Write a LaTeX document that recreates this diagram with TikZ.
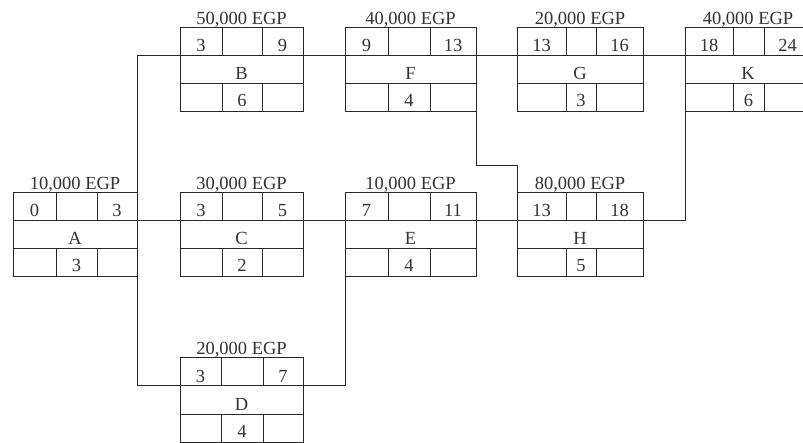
\documentclass[tikz,border=0pt]{standalone}
\usepackage{fontspec}
\setmainfont{Liberation Serif}
\usepackage{xcolor}
\usepackage{tikz}
\usetikzlibrary{positioning}

\tikzset{
  actbox/.style={draw=black!85, line width=1pt, minimum height=84, inner sep=0, outer sep=0, anchor=north west},
  cellline/.style={draw=black!85, line width=1pt},
  link/.style={draw=black!85, line width=1pt},
  numtext/.style={inner sep=0, anchor=base, text=black!80, font=\fontsize{18.5}{20}\selectfont}
}

\begin{document}
\begin{tikzpicture}[x=1pt, y=-1pt]
\useasboundingbox (0,0) rectangle (803,443);
\clip (0,0) rectangle (803,443);
% name / left / right / top / first divider / second divider / cost / ES / EF / duration
\foreach \nm/\xl/\xr/\ty/\xa/\xb/\cost/\es/\ef/\dur in {
  A/13/137/193/56/97/{10,000}/0/3/3,
  B/180/303/28/222/262/{50,000}/3/9/6,
  C/180/303/193/222/262/{30,000}/3/5/2,
  D/180/303/358/221/263/{20,000}/3/7/4,
  E/345/476/193/388/430/{10,000}/7/11/4,
  F/345/476/28/388/430/{40,000}/9/13/4,
  G/517/643/28/566/596/{20,000}/13/16/3,
  H/517/643/193/566/596/{80,000}/13/18/5,
  K/685/811/28/733/764/{40,000}/18/24/6} {
  \node[actbox, minimum width=\xr-\xl] (\nm) at (\xl,\ty) {};
  \draw[cellline] (\xl,\ty+28) -- (\xr,\ty+28);
  \draw[cellline] (\xl,\ty+56) -- (\xr,\ty+56);
  \draw[cellline] (\xa,\ty) -- (\xa,\ty+28);
  \draw[cellline] (\xb,\ty) -- (\xb,\ty+28);
  \draw[cellline] (\xa,\ty+56) -- (\xa,\ty+84);
  \draw[cellline] (\xb,\ty+56) -- (\xb,\ty+84);
  \coordinate (\nm-in) at (\xl,\ty+28);
  \coordinate (\nm-out) at (\xr,\ty+28);
  \node[numtext] (\nm-cost) at ({(\xl+\xr)/2},\ty-3) {\cost\ EGP};
  \node[numtext] (\nm-es) at ({(\xl+\xa)/2},\ty+24) {\es};
  \node[numtext] (\nm-ef) at ({(\xb+\xr)/2},\ty+24) {\ef};
  \node[numtext] (\nm-name) at ({(\xl+\xr)/2},\ty+52) {\nm};
  \node[numtext] (\nm-dur) at ({(\xa+\xb)/2},\ty+79) {\dur};
}
% precedence links
\draw[link] (A-out) |- (B-in);
\draw[link] (A-out) -- (C-in);
\draw[link] (A-out) |- (D-in);
\draw[link] (B-out) -- (F-in);
\draw[link] (C-out) -- (E-in);
\draw[link] (D-out) -| (E-in);
\draw[link] (E-out) -- (H-in);
\draw[link] (F-out) -- (G-in);
\draw[link] (F-out) -- ++(0,110) -| (H-in);
\draw[link] (G-out) -- (K-in);
\draw[link] (H-out) -| (K-in);
\end{tikzpicture}
\end{document}
